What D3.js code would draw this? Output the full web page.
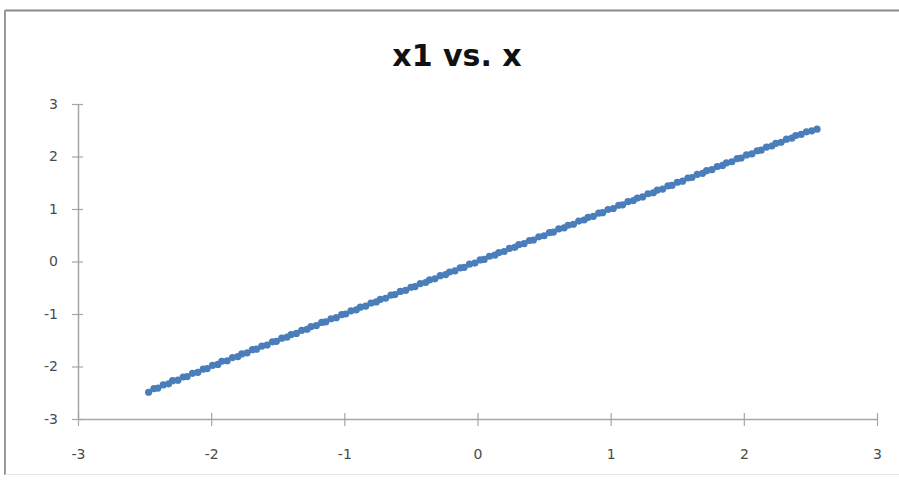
<!DOCTYPE html>
<html>
<head>
<meta charset="utf-8">
<script src="https://cdn.jsdelivr.net/npm/d3@7/dist/d3.min.js"></script>
<style>
html,body{margin:0;padding:0;background:#fff;}
svg{display:block;}
</style>
</head>
<body>
<svg id="chart" width="899" height="485"></svg>
<script>
const title = "x1 vs. x";
const xTicks = [-3, -2, -1, 0, 1, 2, 3];
const yTicks = [-3, -2, -1, 0, 1, 2, 3];
const xs = [-2.47,-2.43,-2.40,-2.36,-2.32,-2.29,-2.25,-2.21,-2.18,-2.14,
-2.10,-2.06,-2.03,-1.99,-1.95,-1.92,-1.88,-1.84,-1.80,-1.77,
-1.73,-1.69,-1.66,-1.62,-1.58,-1.54,-1.51,-1.47,-1.43,-1.40,
-1.36,-1.32,-1.28,-1.25,-1.21,-1.17,-1.14,-1.10,-1.06,-1.02,
-0.99,-0.95,-0.91,-0.88,-0.84,-0.80,-0.76,-0.73,-0.69,-0.65,
-0.62,-0.58,-0.54,-0.50,-0.47,-0.43,-0.39,-0.36,-0.32,-0.28,
-0.24,-0.21,-0.17,-0.13,-0.10,-0.06,-0.02,0.02,0.05,0.09,
0.13,0.16,0.20,0.24,0.28,0.31,0.35,0.39,0.42,0.46,
0.50,0.54,0.57,0.61,0.65,0.68,0.72,0.76,0.80,0.83,
0.87,0.91,0.94,0.98,1.02,1.06,1.09,1.13,1.17,1.20,
1.24,1.28,1.32,1.35,1.39,1.43,1.46,1.50,1.54,1.58,
1.61,1.65,1.69,1.72,1.76,1.80,1.84,1.87,1.91,1.95,
1.98,2.02,2.06,2.10,2.13,2.17,2.21,2.24,2.28,2.32,
2.36,2.39,2.43,2.47,2.51,2.55];
const ys = [-2.49,-2.42,-2.41,-2.35,-2.33,-2.27,-2.26,-2.20,-2.19,-2.13,
-2.11,-2.05,-2.04,-1.98,-1.96,-1.90,-1.89,-1.83,-1.81,-1.76,
-1.74,-1.68,-1.67,-1.61,-1.59,-1.53,-1.52,-1.46,-1.44,-1.39,
-1.37,-1.31,-1.29,-1.24,-1.22,-1.16,-1.15,-1.09,-1.07,-1.01,
-1.00,-0.94,-0.92,-0.87,-0.85,-0.79,-0.77,-0.72,-0.70,-0.64,
-0.63,-0.57,-0.55,-0.49,-0.48,-0.42,-0.40,-0.35,-0.33,-0.27,
-0.25,-0.20,-0.18,-0.12,-0.11,-0.05,-0.03,0.03,0.04,0.10,
0.12,0.17,0.19,0.25,0.27,0.32,0.34,0.40,0.41,0.47,
0.49,0.55,0.56,0.62,0.64,0.69,0.71,0.77,0.79,0.84,
0.86,0.92,0.93,0.99,1.01,1.07,1.08,1.14,1.16,1.21,
1.23,1.29,1.31,1.36,1.38,1.44,1.45,1.51,1.53,1.59,
1.60,1.66,1.68,1.73,1.75,1.81,1.83,1.88,1.90,1.96,
1.97,2.03,2.05,2.11,2.12,2.18,2.20,2.25,2.27,2.33,
2.35,2.40,2.42,2.47,2.49,2.52];

const svg = d3.select("#chart");
const W = 899, H = 485;

// chart area border
svg.append("line").attr("x1", 5).attr("x2", W).attr("y1", 10.5).attr("y2", 10.5)
  .attr("stroke", "#8c8c8c").attr("stroke-width", 2);
svg.append("line").attr("x1", 5).attr("x2", 5).attr("y1", 10).attr("y2", 475)
  .attr("stroke", "#9a9a9a").attr("stroke-width", 2);
svg.append("line").attr("x1", 5).attr("x2", W).attr("y1", 474.5).attr("y2", 474.5)
  .attr("stroke", "#e6e6e6").attr("stroke-width", 1);

const x = d3.scaleLinear().domain([-3, 3]).range([78, 877]);
const y = d3.scaleLinear().domain([-3, 3]).range([419, 104]);

// title
svg.append("text")
  .attr("x", 457).attr("y", 66)
  .attr("text-anchor", "middle")
  .attr("font-family", "DejaVu Sans")
  .attr("font-weight", "bold")
  .attr("font-size", 30)
  .attr("fill", "#111")
  .text(title);

const axisColor = "#a6a6a6";
const labelColor = "#4a4a4a";

// y axis
const gy = svg.append("g").attr("transform", "translate(78,0)")
  .call(d3.axisLeft(y).tickValues(yTicks).tickSize(6).tickPadding(14).tickFormat(d3.format("d")));
gy.selectAll(".tick line").attr("x2", -6).attr("x1", 5);
// x axis
const gx = svg.append("g").attr("transform", "translate(0,419)")
  .call(d3.axisBottom(x).tickValues(xTicks).tickSize(6).tickPadding(24).tickFormat(d3.format("d")));
gx.selectAll(".tick line").attr("y1", -6).attr("y2", 7);

[gx, gy].forEach(g => {
  g.select(".domain").attr("stroke", axisColor).attr("stroke-width", 1.5);
  g.selectAll(".tick line").attr("stroke", axisColor).attr("stroke-width", 1.2);
  g.selectAll(".tick text")
    .attr("font-family", "DejaVu Sans")
    .attr("font-size", 14)
    .attr("fill", labelColor)
    .text(d => d < 0 ? "-" + Math.abs(d) : String(d));
});
gx.select(".domain").attr("d", "M78,0.5H877");
gy.select(".domain").attr("d", "M0.5,104V419");

// points (dense markers forming a band)
const pts = xs.map((v, i) => [v, ys[i]]);
svg.append("g").selectAll("circle")
  .data(pts).join("circle")
  .attr("cx", d => x(d[0]))
  .attr("cy", d => y(d[1]))
  .attr("r", 3.6)
  .attr("fill", "#4a7ebb");
</script>
</body>
</html>
